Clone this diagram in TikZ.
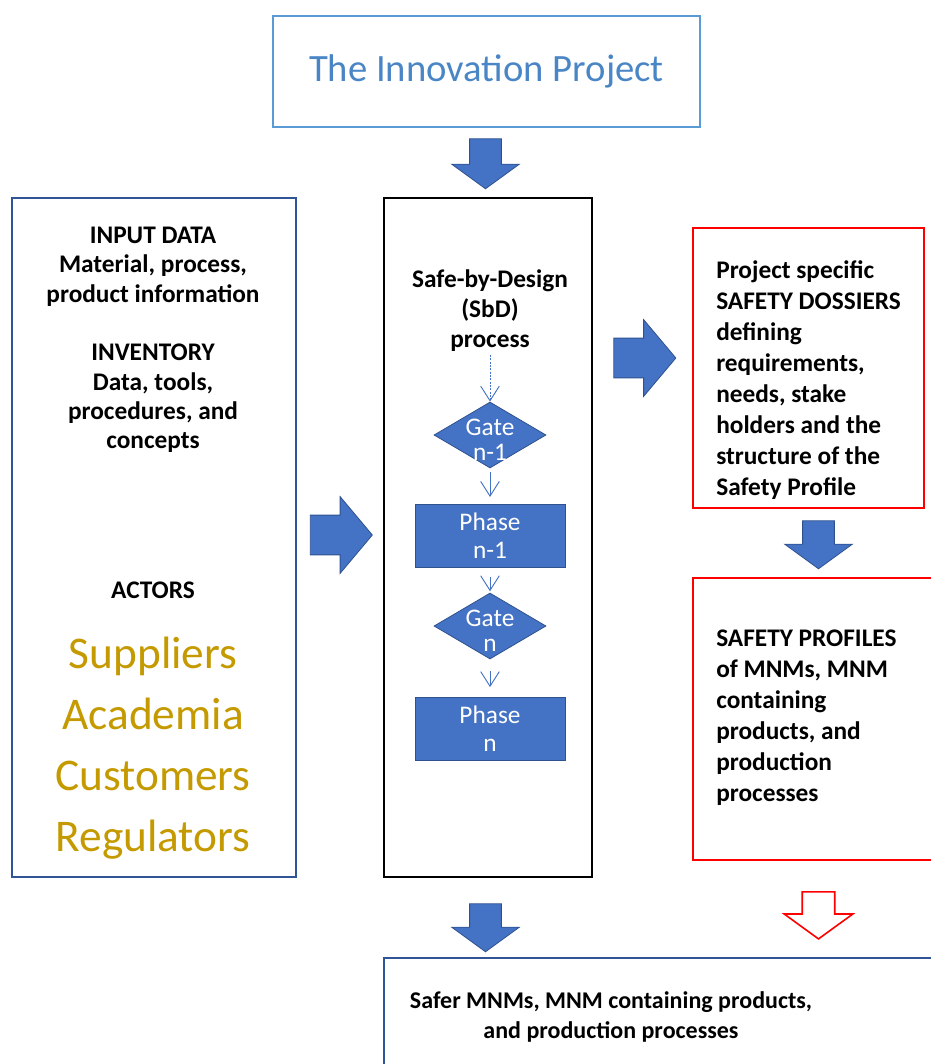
\documentclass[tikz,border=0pt]{standalone}
\usepackage{fontspec}
\setmainfont{Carlito}
\usetikzlibrary{shapes.geometric}
\usetikzlibrary{shapes.arrows}
\usetikzlibrary{arrows.meta}
\definecolor{sbdblue}{HTML}{4472C4}
\definecolor{sbdedge}{HTML}{2F528F}
\definecolor{titleblue}{HTML}{5B9BD5}
\definecolor{titletext}{HTML}{4A86C5}
\definecolor{framedark}{HTML}{2F5597}
\definecolor{actorgold}{HTML}{C49A00}
\tikzstyle{frame}=[draw, line width=1.5pt, inner sep=0pt]
\tikzstyle{body text}=[inner sep=0pt, font=\bfseries\fontsize{19}{22.5}\selectfont]
\tikzstyle{block arrow}=[single arrow, fill=sbdblue, draw=sbdedge, line width=0.6pt,
  inner xsep=0pt, inner ysep=14.6pt, minimum height=46.5pt, minimum width=57pt,
  single arrow head extend=13.9pt, single arrow tip angle=100]
\tikzstyle{pointing down}=[shape border rotate=270, inner xsep=11.6pt, inner ysep=0pt,
  minimum height=36pt, minimum width=50.25pt, single arrow head extend=13.5pt, single arrow tip angle=108]
\tikzstyle{gate}=[diamond, fill=sbdblue, draw=sbdedge, line width=0.6pt, inner sep=0pt,
  minimum width=84pt, minimum height=49.5pt]
\tikzstyle{gate text}=[inner sep=0pt, text=white, align=center, font=\fontsize{19}{19}\selectfont, yshift=-3.4pt]
\tikzstyle{phase}=[rectangle, fill=sbdblue, draw=sbdedge, line width=0.6pt, inner sep=0pt,
  minimum width=112.5pt, minimum height=47.25pt, text=white, align=center, font=\fontsize{19}{21}\selectfont]
\tikzstyle{flow}=[draw=sbdblue, line width=0.7pt, -{Straight Barb[length=11pt, width=14pt]}]

\begin{document}
\begin{tikzpicture}[x=0.75pt, y=-0.75pt]
      \useasboundingbox (0, 0) rectangle (931, 1064);
      \clip (0, 0) rectangle (931, 1064);

      % project and the way in
      \node[frame, draw=titleblue, minimum width=320.25pt, minimum height=83.25pt,
        text=titletext, font=\fontsize{29}{34}\selectfont] (project) at (486.5, 71.5) {The Innovation Project};
      \node[block arrow, pointing down, minimum height=37.5pt] (to_sbd) at (485.5, 158) {};

      % left column
      \node[frame, draw=framedark, minimum width=213pt, minimum height=509.25pt] (inputs) at (154, 537.5) {};
      \node[body text, align=center, font=\bfseries\fontsize{19}{22}\selectfont] (inputs_text) at (153, 340)
        {INPUT DATA\\Material, process,\\product information\\[22pt]INVENTORY\\Data, tools,\\procedures, and\\concepts};
      \node[body text] (actors_title) at (153, 590) {ACTORS};
      \node[inner sep=0pt, align=center, text=actorgold, font=\fontsize{34}{45.75}\selectfont] (actors) at (153, 748.5)
        {Suppliers\\Academia\\Customers\\Regulators};
      \node[block arrow] (to_process) at (333, 535) {};

      % SbD process
      \node[frame, draw=black, line width=1.9pt, minimum width=156pt, minimum height=509.25pt] (process) at (488, 537.5) {};
      \node[body text, align=center] (process_title) at (490, 311) {Safe-by-Design\\(SbD)\\process};
      \coordinate (process_out) at (490, 355);
      \node[gate, label={[gate text]center:Gate\\n-1}] (gate_a) at (490, 435) {};
      \node[phase] (phase_a) at (490, 535.5) {Phase\\n-1};
      \node[gate, label={[gate text]center:Gate\\n}] (gate_b) at (490, 626) {};
      \node[phase] (phase_b) at (490, 729) {Phase\\n};
      \draw[flow, dash pattern=on 1.5pt off 1pt] (process_out) -- (gate_a.north);
      \draw[flow, shorten <=3pt, shorten >=5pt] (gate_a.south) -- (phase_a.north);
      \draw[flow, shorten <=7.5pt, shorten >=1pt] (phase_a.south) -- (gate_b.north);
      \draw[flow, shorten <=9pt, shorten >=7.5pt] (gate_b.south) -- (phase_b.north);
      \node[block arrow] (to_dossiers) at (636.5, 358) {};

      % right column
      \node[frame, draw=red, minimum width=173.25pt, minimum height=210pt] (dossiers) at (808.5, 368) {};
      \node[body text, anchor=west, align=left, font=\bfseries\fontsize{19}{23.25}\selectfont] (dossiers_text) at (716, 380.5)
        {Project specific\\SAFETY DOSSIERS\\defining\\requirements,\\needs, stake\\holders and the\\structure of the\\Safety Profile};
      \node[block arrow, pointing down] (to_profiles) at (818.5, 539) {};
      \node[frame, draw=red, minimum width=189pt, minimum height=211.5pt] (profiles) at (819, 719) {};
      \node[body text, anchor=west, align=left, font=\bfseries\fontsize{19}{23.25}\selectfont] (profiles_text) at (716, 717.5)
        {SAFETY PROFILES\\of MNMs, MNM\\containing\\products, and\\production\\processes};
      \node[block arrow, pointing down, fill=white, draw=red, line width=1.2pt, minimum height=35.25pt] (from_profiles) at (818.5, 909.5) {};

      % result
      \node[block arrow, pointing down] (to_result) at (485.5, 922) {};
      \node[frame, draw=framedark, minimum width=420.75pt, minimum height=87.75pt] (result) at (664.5, 1016.5) {};
      \node[body text, align=center, font=\bfseries\fontsize{18}{22.5}\selectfont] (result_text) at (611, 1017)
        {Safer MNMs, MNM containing products,\\and production processes};
    \end{tikzpicture}
\end{document}
